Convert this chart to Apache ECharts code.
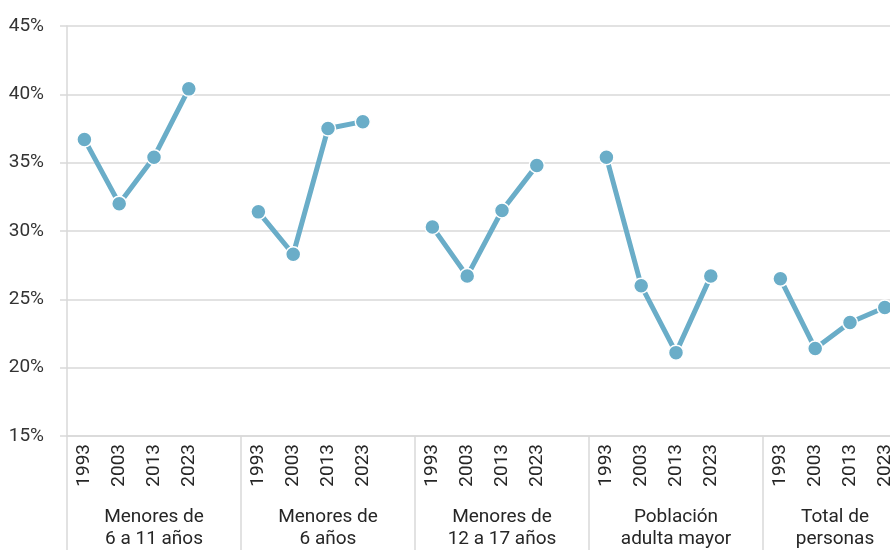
<!DOCTYPE html>
<html>
<head>
<meta charset="utf-8">
<script src="https://cdn.jsdelivr.net/npm/echarts@6/dist/echarts.min.js"></script>
<style>
  html, body { margin: 0; padding: 0; background: #fff; }
  #chart { width: 890px; height: 550px; }
</style>
</head>
<body>
<div id="chart"></div>
<script>
// datos
const groups = ['Menores de\n6 a 11 años', 'Menores de\n6 años', 'Menores de\n12 a 17 años', 'Población\nadulta mayor', 'Total de\npersonas']
const years = ['1993', '2003', '2013', '2023']
const menores6a11 = [36.7, 32.0, 35.4, 40.4]
const menores6 = [31.4, 28.3, 37.5, 38.0]
const menores12a17 = [30.3, 26.7, 31.5, 34.8]
const adultaMayor = [35.4, 26.0, 21.1, 26.7]
const totalPersonas = [26.5, 21.4, 23.3, 24.4]
const yTicks = [15, 20, 25, 30, 35, 40, 45]

const groupValues = [menores6a11, menores6, menores12a17, adultaMayor, totalPersonas]

// each group = 4 years + 1 blank slot
const slots = []
const values = []
groupValues.forEach(g => {
  years.forEach((y, i) => {
    slots.push(y)
    values.push(g[i])
  })
  slots.push('')
  values.push('-')
})

const lineColor = '#6aadc8'
const gridColor = '#d9d9d9'
const font = 'Roboto, "Liberation Sans", sans-serif'

// last group label sits a bit left (its group is cut by the picture edge)
const groupCats = groups.map((g, i) => {
  if (i === groups.length - 1) {
    return { value: g, textStyle: { padding: [0, 30, 0, 0] } }
  }
  return g
})

const chart = echarts.init(document.getElementById('chart'))
chart.setOption({
  animation: false,
  // the plot runs past the right edge of the picture (last group is cut off)
  grid: { left: 67, top: 26, right: -47, bottom: 114, outerBoundsMode: 'none', containLabel: false },
  xAxis: [
    {
      type: 'category',
      data: slots,
      boundaryGap: true,
      axisLine: { show: true, lineStyle: { color: gridColor, width: 1.5 } },
      axisTick: { show: false },
      axisLabel: {
        interval: 0,
        rotate: 90,
        margin: 8,
        color: '#262626',
        fontSize: 19,
        fontFamily: font
      }
    },
    {
      type: 'category',
      data: groupCats,
      position: 'bottom',
      boundaryGap: true,
      axisLine: { show: false },
      axisTick: { show: true, length: 120, lineStyle: { color: gridColor, width: 1.5 } },
      axisLabel: {
        interval: 0,
        margin: 70,
        color: '#262626',
        fontSize: 19,
        lineHeight: 22,
        fontFamily: font,
        verticalAlign: 'top'
      }
    }
  ],
  yAxis: {
    type: 'value',
    min: yTicks[0],
    max: yTicks[yTicks.length - 1],
    interval: 5,
    axisLine: { show: true, lineStyle: { color: gridColor, width: 1.5 } },
    axisTick: { show: true, length: 7, lineStyle: { color: gridColor, width: 1.5 } },
    splitLine: { lineStyle: { color: gridColor, width: 1.5 } },
    axisLabel: {
      formatter: '{value}%',
      margin: 23,
      color: '#333',
      fontSize: 19,
      fontFamily: font
    }
  },
  series: [
    {
      type: 'line',
      data: values,
      connectNulls: false,
      symbol: 'circle',
      symbolSize: 15,
      lineStyle: { color: lineColor, width: 5 },
      itemStyle: { color: lineColor, borderColor: '#fff', borderWidth: 1.5 }
    }
  ]
})
</script>
</body>
</html>
